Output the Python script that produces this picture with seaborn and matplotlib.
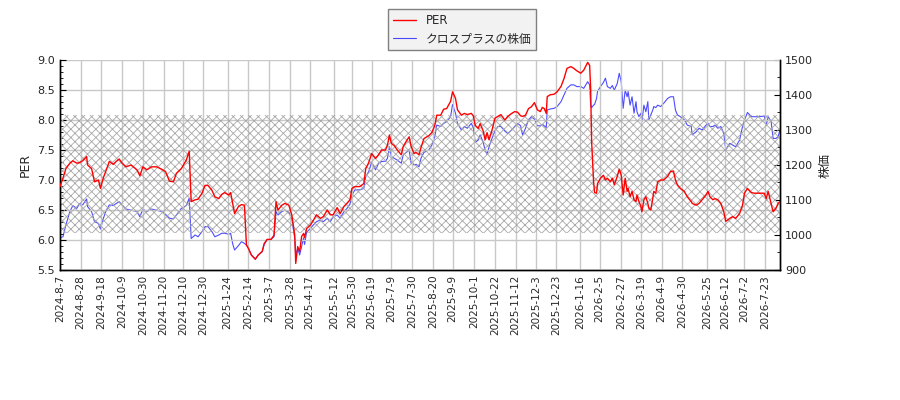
import pandas as pd
import numpy as np
import matplotlib
matplotlib.use("Agg")
import matplotlib.pyplot as plt
import seaborn as sns
from matplotlib.ticker import MultipleLocator

# データ
start_date = "2024-08-07"

# 開始日からの日数
day_offset = [
    0, 3, 6, 10, 13, 17, 20, 23, 27, 28, 32, 35, 39, 41, 44, 47, 50, 54, 57, 60,
    63, 67, 72, 78, 81, 84, 88, 93, 98, 103, 107, 111, 115, 118, 123, 128, 131, 133, 137, 140,
    144, 147, 150, 154, 157, 161, 164, 167, 171, 173, 175, 177, 181, 184, 187, 189, 191, 194, 198, 201,
    205, 207, 210, 214, 217, 219, 221, 225, 228, 232, 235, 238, 239, 241, 243,
    245, 247, 248, 250, 254, 257, 260, 264, 267, 271, 274, 277, 281, 284, 288, 291, 294, 296, 299, 304,
    308, 310, 313, 316, 320, 323, 326, 330, 332, 334, 336, 339, 342, 346, 348, 352, 354, 356, 359, 361,
    364, 366, 369, 374, 377, 380, 382, 386, 389, 392, 396, 398, 401, 403, 407, 410, 413, 417, 419, 421,
    424, 426, 429, 431, 433, 435, 438, 441, 444, 447, 451, 454, 458, 461, 464, 467, 469, 472, 475, 478,
    481, 484, 487,
    489, 491, 493, 494, 497, 501, 504, 508, 511, 514, 518, 521, 524, 528, 531, 535, 537, 538, 539, 541,
    542, 544, 545, 548, 551, 553, 555, 558, 560, 562, 565, 567, 569, 571, 573, 575, 576, 578, 580, 582,
    584, 585, 587, 589, 590, 592, 594, 596, 597, 599, 601, 602, 604, 606, 609, 612, 616, 619, 622, 624,
    626, 629, 633, 636, 640, 641, 645, 648, 651, 655, 657, 659, 662, 664, 667, 670, 673, 675, 679, 682,
    685, 689, 692, 694, 697, 701, 704, 709, 714, 716, 718, 721, 723, 726, 728, 730,
]

per = [
    6.89, 7.03, 7.19, 7.28, 7.32, 7.28, 7.29, 7.32, 7.39, 7.25, 7.19, 6.97, 7.00, 6.86, 7.04, 7.17, 7.31, 7.26, 7.31, 7.35,
    7.28, 7.22, 7.25, 7.17, 7.07, 7.22, 7.17, 7.22, 7.22, 7.18, 7.14, 6.98, 6.97, 7.11, 7.19, 7.33, 7.48, 6.64, 6.67, 6.68,
    6.78, 6.91, 6.91, 6.83, 6.72, 6.69, 6.76, 6.79, 6.75, 6.79, 6.61, 6.44, 6.56, 6.59, 6.58, 5.92, 5.86, 5.75, 5.68, 5.75,
    5.81, 5.94, 6.01, 6.01, 6.08, 6.64, 6.50, 6.58, 6.61, 6.58, 6.42, 6.08, 5.61, 5.89, 5.81,
    6.06, 6.11, 6.04, 6.19, 6.25, 6.33, 6.42, 6.36, 6.39, 6.50, 6.42, 6.42, 6.54, 6.44, 6.56, 6.61, 6.67, 6.86, 6.89, 6.89,
    6.94, 7.19, 7.29, 7.44, 7.36, 7.42, 7.50, 7.50, 7.58, 7.75, 7.61, 7.57, 7.50, 7.42, 7.56, 7.67, 7.72, 7.56, 7.44, 7.46,
    7.42, 7.54, 7.69, 7.74, 7.79, 7.91, 8.08, 8.08, 8.18, 8.19, 8.31, 8.47, 8.36, 8.17, 8.08, 8.11, 8.09, 8.11, 8.07, 7.91,
    7.86, 7.94, 7.82, 7.67, 7.79, 7.67, 7.83, 8.03, 8.06, 8.09, 8.00, 8.06, 8.11, 8.14, 8.13, 8.07, 8.06, 8.08, 8.19, 8.22,
    8.29, 8.17, 8.14,
    8.21, 8.19, 8.11, 8.39, 8.42, 8.43, 8.47, 8.56, 8.69, 8.86, 8.89, 8.86, 8.82, 8.78, 8.83, 8.96, 8.91, 8.53, 7.64, 6.97,
    6.79, 6.78, 6.94, 7.03, 7.08, 7.00, 7.03, 6.97, 7.03, 6.92, 7.06, 7.18, 7.08, 6.75, 7.03, 6.81, 6.86, 6.72, 6.81, 6.67,
    6.64, 6.75, 6.64, 6.56, 6.47, 6.67, 6.72, 6.61, 6.53, 6.50, 6.69, 6.81, 6.78, 6.97, 7.00, 7.00, 7.06, 7.14, 7.15, 7.00,
    6.92, 6.86, 6.81, 6.72, 6.64, 6.61, 6.58, 6.61, 6.67, 6.75, 6.81, 6.72, 6.67, 6.69, 6.67, 6.61, 6.47, 6.31, 6.36, 6.39,
    6.36, 6.44, 6.58, 6.78, 6.86, 6.79, 6.78, 6.78, 6.78, 6.69, 6.81, 6.61, 6.47, 6.53, 6.61, 6.64,
]

price = [
    992, 995, 1029, 1067, 1084, 1076, 1090, 1086, 1103, 1081, 1067, 1038, 1033, 1017, 1048, 1071, 1086, 1084, 1090, 1095,
    1086, 1074, 1071, 1067, 1052, 1074, 1067, 1074, 1071, 1067, 1059, 1048, 1046, 1057, 1076, 1084, 1105, 990, 1000, 995,
    1010, 1024, 1024, 1010, 995, 1000, 1005, 1005, 1002, 1005, 976, 957, 970, 981, 976, 971, 962, 943, 931, 943,
    952, 973, 986, 988, 995, 1067, 1057, 1067, 1071, 1065, 1046, 990, 943, 962, 943,
    967, 992, 973, 1008, 1019, 1029, 1038, 1043, 1038, 1048, 1038, 1052, 1057, 1048, 1067, 1076, 1088, 1114, 1129, 1129,
    1133, 1167, 1181, 1208, 1186, 1205, 1210, 1211, 1219, 1252, 1224, 1219, 1214, 1205, 1229, 1238, 1243, 1205, 1200, 1202,
    1195, 1219, 1236, 1243, 1257, 1281, 1314, 1310, 1319, 1324, 1338, 1373, 1348, 1319, 1300, 1310, 1305, 1319, 1307, 1265,
    1271, 1286, 1265, 1243, 1230, 1252, 1276, 1297, 1310, 1310, 1297, 1290, 1300, 1310, 1319, 1312, 1286, 1305, 1329, 1338,
    1331, 1312, 1312,
    1316, 1312, 1307, 1357, 1360, 1362, 1367, 1381, 1400, 1419, 1429, 1429, 1424, 1424, 1419, 1438, 1429, 1371, 1364, 1371,
    1373, 1390, 1410, 1424, 1436, 1448, 1424, 1419, 1427, 1414, 1433, 1462, 1438, 1362, 1414, 1395, 1410, 1371, 1395, 1348,
    1381, 1352, 1338, 1348, 1324, 1371, 1352, 1381, 1329, 1343, 1357, 1367, 1364, 1371, 1367, 1376, 1390, 1395, 1395, 1357,
    1343, 1338, 1329, 1314, 1310, 1286, 1295, 1305, 1300, 1314, 1319, 1310, 1310, 1314, 1305, 1310, 1290, 1243, 1262, 1257,
    1252, 1271, 1310, 1329, 1350, 1338, 1338, 1338, 1340, 1314, 1338, 1324, 1276, 1276, 1281, 1300,
]

# 網掛けの帯（PER）
band_low = 6.12
band_high = 8.08

tick_labels = [
    "2024-8-7", "2024-8-28", "2024-9-18", "2024-10-9", "2024-10-30", "2024-11-20",
    "2024-12-10", "2024-12-30", "2025-1-24", "2025-2-14", "2025-3-7", "2025-3-28",
    "2025-4-17", "2025-5-12", "2025-5-30", "2025-6-19", "2025-7-9", "2025-7-30",
    "2025-8-20", "2025-9-9", "2025-10-1", "2025-10-22", "2025-11-12", "2025-12-3",
    "2025-12-23", "2026-1-16", "2026-2-5", "2026-2-27", "2026-3-19", "2026-4-9",
    "2026-4-30", "2026-5-25", "2026-6-12", "2026-7-2", "2026-7-23",
]

df = pd.DataFrame({
    "date": pd.to_datetime(start_date) + pd.to_timedelta(day_offset, unit="D"),
    "PER": per,
    "株価": price,
})
tick_dates = pd.to_datetime(tick_labels, format="%Y-%m-%d")

sns.set_style("white")
plt.rcParams["font.family"] = ["DejaVu Sans", "Noto Sans CJK JP"]
plt.rcParams["hatch.linewidth"] = 0.6

fig, ax = plt.subplots(figsize=(9, 4), dpi=100)
fig.subplots_adjust(left=60 / 900, right=780 / 900, top=0.85, bottom=0.325)
ax2 = ax.twinx()

# 網掛け
ax.fill_between([df["date"].iloc[0], df["date"].iloc[-1]], band_low, band_high,
                facecolor="none", edgecolor="#a8a8a8", hatch="xxxx", linewidth=0, zorder=1)

sns.lineplot(data=df, x="date", y="PER", ax=ax, color="red", linewidth=1.0, label="PER", legend=False, zorder=3)
sns.lineplot(data=df, x="date", y="株価", ax=ax2, color="blue", alpha=0.7, linewidth=0.8,
             label="クロスプラスの株価", legend=False)

# PER を手前に
ax.set_zorder(ax2.get_zorder() + 1)
ax.patch.set_visible(False)

ax.set_xlim(df["date"].iloc[0], df["date"].iloc[-1])
ax.set_ylim(5.5, 9.0)
ax2.set_ylim(900, 1500)
ax.set_xticks(tick_dates)
ax.set_xticklabels(tick_labels, rotation=90, fontsize=7.5)
ax.yaxis.set_major_locator(MultipleLocator(0.5))
ax.yaxis.set_minor_locator(MultipleLocator(0.1))
ax2.yaxis.set_major_locator(MultipleLocator(100))
ax2.yaxis.set_minor_locator(MultipleLocator(50))

ax.grid(True, color="#c8c8c8", linewidth=1.0)
ax.set_xlabel("")
ax.set_ylabel("PER", fontsize=9)
ax2.set_ylabel("株価", fontsize=9)

for a in (ax, ax2):
    a.tick_params(axis="both", which="major", direction="in", length=4, color="black")
    a.tick_params(axis="y", which="major", labelsize=8)
    a.tick_params(axis="both", which="minor", direction="in", length=2.5, color="black")
    for s in a.spines.values():
        s.set_color("black")
        s.set_linewidth(1.0)
    a.spines["top"].set_visible(False)

h1, l1 = ax.get_legend_handles_labels()
h2, l2 = ax2.get_legend_handles_labels()
leg = fig.legend(h1 + h2, l1 + l2, loc="upper center", bbox_to_anchor=(462 / 900, 1 - 9 / 400),
                 borderaxespad=0, fontsize=8.5, frameon=True, fancybox=False, edgecolor="#808080",
                 facecolor="#f2f2f2", framealpha=1.0, handlelength=2.0, borderpad=0.4)
leg.get_frame().set_linewidth(1.0)

fig.savefig("out.png", dpi=100)
